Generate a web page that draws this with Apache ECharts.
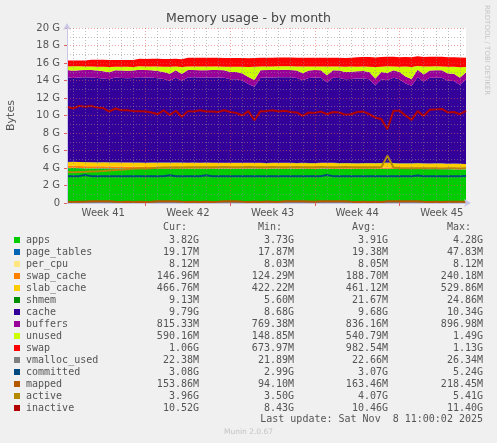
<!DOCTYPE html>
<html><head><meta charset="utf-8">
<script src="https://cdn.jsdelivr.net/npm/echarts@6/dist/echarts.min.js"></script>
<style>html,body{margin:0;padding:0;background:#F0F0F0;}#c{width:497px;height:443px;}</style>
</head><body><div id="c"></div>
<script>
// ---- sample times (12h steps) ----
const times = ['10-06 12:00','10-07 00:00','10-07 12:00','10-08 00:00','10-08 12:00','10-09 00:00','10-09 12:00','10-10 00:00','10-10 12:00','10-11 00:00',
'10-11 12:00','10-12 00:00','10-12 12:00','10-13 00:00','10-13 12:00','10-14 00:00','10-14 12:00','10-15 00:00','10-15 12:00','10-16 00:00',
'10-16 12:00','10-17 00:00','10-17 12:00','10-18 00:00','10-18 12:00','10-19 00:00','10-19 12:00','10-20 00:00','10-20 12:00','10-21 00:00',
'10-21 12:00','10-22 00:00','10-22 12:00','10-23 00:00','10-23 12:00','10-24 00:00','10-24 12:00','10-25 00:00','10-25 12:00','10-26 00:00',
'10-26 12:00','10-27 00:00','10-27 12:00','10-28 00:00','10-28 12:00','10-29 00:00','10-29 12:00','10-30 00:00','10-30 12:00','10-31 00:00',
'10-31 12:00','11-01 00:00','11-01 12:00','11-02 00:00','11-02 12:00','11-03 00:00','11-03 12:00','11-04 00:00','11-04 12:00','11-05 00:00',
'11-05 12:00','11-06 00:00','11-06 12:00','11-07 00:00','11-07 12:00','11-08 00:00','11-08 12:00'];
const weekStarts = ['10-13 00:00','10-20 00:00','10-27 00:00','11-03 00:00'];
const weekMids = ['10-09 12:00','10-16 12:00','10-23 12:00','10-30 12:00','11-06 12:00'];
const weekLabels = ['Week 41','Week 42','Week 43','Week 44','Week 45'];
const yTickValues = [0,2,4,6,8,10,12,14,16,18,20];

// ---- series values (G bytes) ----
const apps = [3.97,3.99,3.98,3.96,3.96,3.95,3.95,3.95,3.94,3.94,
3.93,3.93,3.93,3.92,3.92,3.93,3.92,3.92,3.93,3.92,
3.92,3.93,3.92,3.92,3.91,3.92,3.91,3.92,3.91,3.91,
3.92,3.91,3.91,3.90,3.91,3.91,3.90,3.91,3.90,3.91,
3.90,3.90,3.91,3.90,3.90,3.89,3.90,3.90,3.89,3.90,
3.89,3.90,3.89,3.89,3.90,3.89,3.88,3.88,3.89,3.88,
3.87,3.88,3.87,3.86,3.85,3.84,3.82];
const page_tables = [0.019,0.019,0.019,0.019,0.019,0.019,0.019,0.019,0.019,0.019,
0.019,0.019,0.019,0.019,0.019,0.02,0.019,0.019,0.019,0.019,
0.019,0.019,0.019,0.019,0.019,0.019,0.019,0.02,0.019,0.019,
0.019,0.019,0.019,0.019,0.019,0.019,0.019,0.019,0.019,0.019,
0.019,0.019,0.019,0.048,0.019,0.019,0.019,0.019,0.019,0.019,
0.019,0.019,0.019,0.019,0.019,0.019,0.019,0.019,0.019,0.019,
0.019,0.019,0.019,0.019,0.019,0.019,0.019];
const per_cpu = [0.008,0.008,0.008,0.008,0.008,0.008,0.008,0.008,0.008,0.008,
0.008,0.008,0.008,0.008,0.008,0.008,0.008,0.008,0.008,0.008,
0.008,0.008,0.008,0.008,0.008,0.008,0.008,0.008,0.008,0.008,
0.008,0.008,0.008,0.008,0.008,0.008,0.008,0.008,0.008,0.008,
0.008,0.008,0.008,0.008,0.008,0.008,0.008,0.008,0.008,0.008,
0.008,0.008,0.008,0.008,0.008,0.008,0.008,0.008,0.008,0.008,
0.008,0.008,0.008,0.008,0.008,0.008,0.008];
const swap_cache = [0.23,0.24,0.23,0.22,0.22,0.21,0.21,0.20,0.20,0.19,
0.19,0.19,0.18,0.18,0.18,0.19,0.18,0.18,0.19,0.18,
0.18,0.17,0.18,0.18,0.17,0.18,0.17,0.18,0.17,0.17,
0.18,0.17,0.17,0.16,0.17,0.17,0.16,0.17,0.16,0.17,
0.16,0.16,0.17,0.16,0.16,0.15,0.16,0.16,0.15,0.16,
0.15,0.16,0.15,0.15,0.16,0.15,0.15,0.14,0.15,0.15,
0.14,0.15,0.15,0.14,0.15,0.15,0.147];
const slab_cache = [0.44,0.43,0.44,0.45,0.44,0.45,0.46,0.45,0.46,0.46,
0.47,0.46,0.47,0.46,0.47,0.46,0.47,0.48,0.46,0.47,
0.46,0.47,0.46,0.47,0.48,0.46,0.47,0.46,0.47,0.48,
0.46,0.47,0.46,0.47,0.46,0.47,0.48,0.47,0.46,0.47,
0.46,0.47,0.46,0.47,0.48,0.47,0.46,0.47,0.46,0.47,
0.48,0.46,0.47,0.53,0.47,0.46,0.47,0.46,0.47,0.46,
0.47,0.46,0.47,0.46,0.47,0.46,0.467];
const shmem = [0.022,0.022,0.022,0.022,0.022,0.022,0.022,0.022,0.022,0.022,
0.022,0.022,0.022,0.022,0.022,0.022,0.022,0.022,0.022,0.022,
0.022,0.022,0.022,0.022,0.022,0.022,0.022,0.022,0.022,0.022,
0.022,0.022,0.022,0.022,0.022,0.022,0.022,0.022,0.022,0.022,
0.022,0.022,0.022,0.022,0.022,0.022,0.022,0.022,0.022,0.022,
0.022,0.022,0.022,0.022,0.022,0.022,0.022,0.022,0.022,0.022,
0.02,0.018,0.015,0.012,0.01,0.009,0.009];
const cache = [9.68,9.58,9.63,9.68,9.68,9.63,9.56,9.48,9.68,9.66,
9.63,9.66,9.74,9.74,9.72,9.62,9.54,9.34,9.69,9.34,
9.74,9.74,9.72,9.72,9.74,9.74,9.72,9.54,9.54,9.39,
9.00,8.69,9.73,9.76,9.76,9.76,9.78,9.76,9.73,9.42,
9.73,9.76,9.73,9.20,9.73,9.73,9.58,9.58,9.68,9.66,
9.58,8.88,9.58,9.42,9.73,9.58,9.10,8.87,9.82,9.34,
9.79,9.79,9.79,9.48,9.44,9.04,9.65];
const buffers = [0.84,0.83,0.84,0.85,0.84,0.84,0.83,0.82,0.84,0.85,
0.84,0.84,0.85,0.84,0.84,0.83,0.82,0.80,0.84,0.79,
0.84,0.85,0.84,0.84,0.85,0.84,0.84,0.83,0.82,0.81,
0.80,0.78,0.84,0.85,0.84,0.84,0.85,0.84,0.84,0.82,
0.84,0.85,0.84,0.80,0.84,0.85,0.83,0.83,0.84,0.84,
0.83,0.79,0.84,0.82,0.85,0.84,0.80,0.78,0.86,0.81,
0.84,0.85,0.84,0.82,0.82,0.80,0.82];
const unused = [0.40,0.50,0.45,0.40,0.40,0.45,0.52,0.60,0.40,0.42,
0.45,0.42,0.40,0.40,0.42,0.52,0.60,0.80,0.45,0.80,
0.40,0.40,0.42,0.42,0.40,0.40,0.42,0.60,0.60,0.75,
1.14,1.49,0.45,0.42,0.42,0.42,0.40,0.42,0.45,0.76,
0.45,0.42,0.45,0.98,0.45,0.45,0.60,0.60,0.50,0.52,
0.60,1.30,0.60,0.76,0.45,0.60,1.14,1.37,0.42,0.90,
0.45,0.45,0.45,0.76,0.80,1.20,0.59];
const swap = [0.674,0.674,0.674,0.674,0.78,0.78,0.78,0.78,0.78,0.78,
0.78,0.78,0.88,0.88,0.88,0.88,0.88,0.88,0.88,0.88,
1.00,1.00,1.00,1.00,1.00,1.00,1.00,1.00,1.00,1.00,
1.00,1.00,1.00,1.00,1.00,1.00,1.00,1.00,1.00,1.00,
1.00,1.00,1.00,1.00,1.00,1.00,1.00,1.00,1.10,1.10,
1.10,1.10,1.10,1.10,1.10,1.10,1.10,1.10,1.10,1.10,
1.10,1.10,1.10,1.10,1.10,1.10,1.06];
const vmalloc_used = [0.022,0.022,0.022,0.022,0.022,0.022,0.022,0.022,0.022,0.022,
0.022,0.022,0.022,0.022,0.022,0.022,0.022,0.022,0.022,0.022,
0.022,0.022,0.022,0.022,0.022,0.022,0.022,0.022,0.022,0.022,
0.022,0.022,0.022,0.022,0.022,0.022,0.022,0.022,0.022,0.022,
0.022,0.022,0.022,0.022,0.022,0.022,0.022,0.022,0.022,0.022,
0.022,0.022,0.022,0.022,0.022,0.022,0.022,0.022,0.022,0.022,
0.022,0.022,0.022,0.022,0.022,0.022,0.022];
const committed = [3.06,3.07,3.07,3.20,3.07,3.06,3.07,3.07,3.06,3.07,
3.07,3.06,3.07,3.07,3.06,3.07,3.07,3.18,3.07,3.06,
3.07,3.07,3.06,3.16,3.07,3.07,3.06,3.07,3.07,3.06,
3.07,3.07,3.06,3.07,3.07,3.06,3.07,3.07,3.06,3.07,
3.07,3.06,3.07,3.20,3.07,3.06,3.07,3.07,3.06,3.07,
3.07,3.06,3.07,3.07,3.06,3.07,3.07,3.06,3.15,3.07,
3.07,3.06,3.07,3.07,3.06,3.07,3.08];
const mapped = [0.13,0.12,0.13,0.13,0.19,0.20,0.20,0.19,0.13,0.12,
0.13,0.12,0.13,0.12,0.13,0.19,0.20,0.20,0.19,0.13,
0.12,0.13,0.12,0.13,0.12,0.13,0.19,0.20,0.19,0.13,
0.12,0.13,0.12,0.18,0.13,0.12,0.19,0.20,0.20,0.19,
0.18,0.13,0.19,0.20,0.20,0.21,0.19,0.13,0.12,0.13,
0.12,0.13,0.12,0.19,0.20,0.21,0.20,0.20,0.19,0.13,
0.12,0.13,0.12,0.13,0.14,0.15,0.154];
const active = [3.54,3.52,3.55,3.56,3.60,3.62,3.65,3.72,3.76,3.80,
3.86,3.90,3.93,3.95,3.98,4.02,4.05,4.06,4.08,4.07,
4.08,4.09,4.08,4.10,4.09,4.10,4.11,4.10,4.09,4.10,
4.11,4.10,4.09,4.10,4.11,4.10,4.09,4.10,4.11,4.10,
4.09,4.10,4.11,4.10,4.09,4.10,4.11,4.10,4.09,4.08,
4.09,4.08,4.10,5.41,4.05,4.00,3.98,3.97,3.96,3.97,
3.96,3.97,3.95,3.96,3.97,3.95,3.96];
const inactive = [11.0,10.8,11.1,11.0,11.1,10.9,10.85,10.45,10.8,10.6,
10.6,10.5,10.5,10.45,10.35,10.15,10.6,10.05,10.55,9.85,
10.5,10.45,10.6,10.45,10.45,10.4,10.6,10.4,10.3,10.0,
10.5,9.45,10.5,10.5,10.6,10.45,10.55,10.4,10.35,9.95,
10.35,10.3,10.45,10.15,10.4,10.35,10.1,10.15,10.4,10.45,
10.15,9.75,9.6,8.43,10.55,10.55,10.0,9.5,10.5,9.95,
10.65,10.7,10.75,10.35,10.4,10.15,10.52];

// ---- legend table ----
const names = ['apps','page_tables','per_cpu','swap_cache','slab_cache','shmem','cache','buffers','unused','swap','vmalloc_used','committed','mapped','active','inactive'];
const colors = ['#00CC00','#0066B3','#FFE680','#FF8000','#FFCC00','#008F00','#330099','#990099','#CCFF00','#FF0000','#808080','#00487D','#B35A00','#B38A00','#B30000'];
const curVals = ['3.82G','19.17M','8.12M','146.96M','466.76M','9.13M','9.79G','815.33M','590.16M','1.06G','22.38M','3.08G','153.86M','3.96G','10.52G'];
const minVals = ['3.73G','17.87M','8.03M','124.29M','422.22M','5.60M','8.68G','769.38M','148.85M','673.97M','21.89M','2.99G','94.10M','3.50G','8.43G'];
const avgVals = ['3.91G','19.38M','8.05M','188.70M','461.12M','21.67M','9.68G','836.16M','540.79M','982.54M','22.66M','3.07G','163.46M','4.07G','10.46G'];
const maxVals = ['4.28G','47.83M','8.12M','240.18M','529.86M','24.86M','10.34G','896.98M','1.49G','1.13G','26.34M','5.24G','218.45M','5.41G','11.40G'];
const headers = ['Cur:','Min:','Avg:','Max:'];
const lastUpdate = 'Last update: Sat Nov  8 11:00:02 2025';

const stackData = [apps,page_tables,per_cpu,swap_cache,slab_cache,shmem,cache,buffers,unused,swap];
const lineData = [vmalloc_used,committed,mapped,active,inactive];

const series = [];
stackData.forEach((d,i)=>{
  series.push({name:names[i],type:'line',stack:'mem',data:d,symbol:'none',silent:true,
    lineStyle:{width:0},itemStyle:{color:colors[i]},areaStyle:{color:colors[i],opacity:1},z:2});
});
lineData.forEach((d,j)=>{
  const i=10+j;
  series.push({name:names[i],type:'line',data:d,symbol:'none',silent:true,
    lineStyle:{width:2,color:colors[i]},itemStyle:{color:colors[i]},z:3});
});

const mono = '10px "DejaVu Sans Mono"';
function txt(x,y,text,align,font,fill,extra){
  return Object.assign({type:'text',x:x,y:y,silent:true,style:{text:text,font:font||mono,fill:fill||'#555',
    align:align,textAlign:align,verticalAlign:'middle',textVerticalAlign:'middle'}},extra||{});
}
const colRight=[199,294,388,483];
const graphic=[];
headers.forEach((h,j)=>graphic.push(txt(colRight[j]-12,227.5,h,'right')));
names.forEach((n,i)=>{
  const y=240+12*i;
  graphic.push({type:'rect',silent:true,shape:{x:14,y:y-3,width:6,height:6},style:{fill:colors[i]}});
  graphic.push(txt(26,y,n,'left'));
  [curVals,minVals,avgVals,maxVals].forEach((arr,j)=>graphic.push(txt(colRight[j],y,arr[i],'right')));
});
graphic.push(txt(483,419.5,lastUpdate,'right'));
graphic.push(txt(248.5,432,'Munin 2.0.67','center','7.5px "DejaVu Sans"','#C4C4C4'));
graphic.push(txt(487,5,'RRDTOOL / TOBI OETIKER','left','7px "DejaVu Sans"','#C4C4C4',{rotation:-Math.PI/2}));

const majorGrid = {color:'rgba(225,85,85,0.55)',width:1,type:[1,2]};
const minorGrid = {color:'rgba(140,140,140,0.55)',width:1,type:[1,2]};
const axisCol = '#C8C8E6';

const option = {
  animation:false,
  backgroundColor:'#F0F0F0',
  title:{text:'Memory usage - by month',left:'center',top:12,padding:0,
    textStyle:{fontFamily:'DejaVu Sans',fontSize:12.5,fontWeight:'normal',color:'#444'}},
  grid:{left:67,right:31,top:28,bottom:240,show:true,backgroundColor:'#FFFFFF',borderWidth:0,
    containLabel:false,outerBoundsMode:'none'},
  xAxis:[{
    type:'category',data:times,boundaryGap:false,z:4,
    axisLine:{show:true,lineStyle:{color:axisCol},symbol:['none','arrow'],symbolSize:[6,7],symbolOffset:[0,5]},
    axisTick:{show:true,length:3,interval:(i,v)=>weekStarts.includes(v),lineStyle:{color:'#E06060'}},
    axisLabel:{interval:(i,v)=>weekMids.includes(v),formatter:(v)=>weekLabels[weekMids.indexOf(v)]||'',
      color:'#555',fontFamily:'DejaVu Sans',fontSize:10,margin:5},
    splitLine:{show:true,interval:(i,v)=>weekStarts.includes(v),lineStyle:majorGrid}
  },{
    type:'category',data:times,boundaryGap:false,z:4,position:'bottom',
    axisLine:{show:false},axisTick:{show:false},axisLabel:{show:false},
    splitLine:{show:true,interval:(i,v)=>v.endsWith('00:00')&&!weekStarts.includes(v),lineStyle:minorGrid}
  }],
  yAxis:{
    type:'value',min:yTickValues[0],max:yTickValues[yTickValues.length-1],interval:2,z:4,
    name:'Bytes',nameLocation:'middle',nameGap:50,nameRotate:90,
    nameTextStyle:{color:'#555',fontFamily:'DejaVu Sans',fontSize:11},
    axisLine:{show:true,lineStyle:{color:axisCol},symbol:['none','arrow'],symbolSize:[6,7],symbolOffset:[0,5]},
    axisTick:{show:true,length:3,lineStyle:{color:'#E06060'}},
    axisLabel:{formatter:v=>v===0?'0':v+' G',color:'#555',fontFamily:'DejaVu Sans',fontSize:10,margin:7},
    splitLine:{show:true,lineStyle:majorGrid},
    minorTick:{show:false,splitNumber:2},
    minorSplitLine:{show:true,lineStyle:minorGrid}
  },
  series:series,
  graphic:graphic
};
const chart = echarts.init(document.getElementById('c'));
chart.setOption(option);
</script></body></html>
